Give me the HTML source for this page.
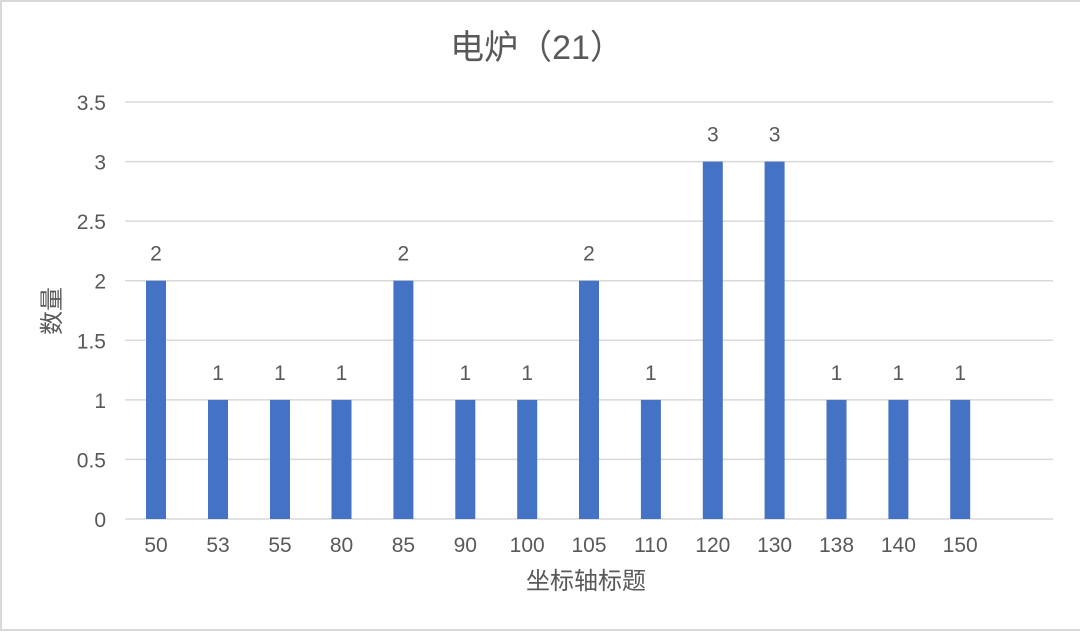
<!DOCTYPE html>
<html><head><meta charset="utf-8"><style>
html,body{margin:0;padding:0;background:#fff;}
svg{display:block;}
text{font-family:"Liberation Sans","Noto Sans CJK SC",sans-serif;fill:#595959;}
</style></head><body>
<svg width="1080" height="633" viewBox="0 0 1080 633" xmlns="http://www.w3.org/2000/svg">
<rect x="0" y="0" width="1080" height="633" fill="#fff"/>
<rect x="1" y="1" width="1090" height="629" fill="none" stroke="#d9d9d9" stroke-width="2"/>
<text x="537" y="59" font-size="34" text-anchor="middle">电炉（21）</text>
<g stroke="#d9d9d9" stroke-width="1.5">
<line x1="125" x2="1053" y1="102" y2="102"/>
<line x1="125" x2="1053" y1="161.6" y2="161.6"/>
<line x1="125" x2="1053" y1="221.1" y2="221.1"/>
<line x1="125" x2="1053" y1="280.7" y2="280.7"/>
<line x1="125" x2="1053" y1="340.3" y2="340.3"/>
<line x1="125" x2="1053" y1="399.9" y2="399.9"/>
<line x1="125" x2="1053" y1="459.4" y2="459.4"/>
<line x1="125" x2="1053" y1="519" y2="519"/>
</g>
<g font-size="21" text-anchor="end">
<text x="106" y="110">3.5</text>
<text x="106" y="169.6">3</text>
<text x="106" y="229.1">2.5</text>
<text x="106" y="288.7">2</text>
<text x="106" y="348.3">1.5</text>
<text x="106" y="407.9">1</text>
<text x="106" y="467.4">0.5</text>
<text x="106" y="527">0</text>
</g>
<g fill="#4472c4">
<rect x="146" y="280.7" width="20" height="238.3"/>
<rect x="208" y="399.9" width="20" height="119.1"/>
<rect x="270" y="399.9" width="20" height="119.1"/>
<rect x="331.5" y="399.9" width="20" height="119.1"/>
<rect x="393.4" y="280.7" width="20" height="238.3"/>
<rect x="455.3" y="399.9" width="20" height="119.1"/>
<rect x="517.2" y="399.9" width="20" height="119.1"/>
<rect x="579" y="280.7" width="20" height="238.3"/>
<rect x="640.9" y="399.9" width="20" height="119.1"/>
<rect x="702.8" y="161.6" width="20" height="357.4"/>
<rect x="764.6" y="161.6" width="20" height="357.4"/>
<rect x="826.5" y="399.9" width="20" height="119.1"/>
<rect x="888.4" y="399.9" width="20" height="119.1"/>
<rect x="950.2" y="399.9" width="20" height="119.1"/>
</g>
<g font-size="21" text-anchor="middle">
<text x="156" y="260.7">2</text>
<text x="218" y="379.9">1</text>
<text x="280" y="379.9">1</text>
<text x="341.5" y="379.9">1</text>
<text x="403.4" y="260.7">2</text>
<text x="465.3" y="379.9">1</text>
<text x="527.2" y="379.9">1</text>
<text x="589" y="260.7">2</text>
<text x="650.9" y="379.9">1</text>
<text x="712.8" y="141.6">3</text>
<text x="774.6" y="141.6">3</text>
<text x="836.5" y="379.9">1</text>
<text x="898.4" y="379.9">1</text>
<text x="960.2" y="379.9">1</text>
</g>
<g font-size="21" text-anchor="middle">
<text x="156" y="552">50</text>
<text x="218" y="552">53</text>
<text x="280" y="552">55</text>
<text x="341.5" y="552">80</text>
<text x="403.4" y="552">85</text>
<text x="465.3" y="552">90</text>
<text x="527.2" y="552">100</text>
<text x="589" y="552">105</text>
<text x="650.9" y="552">110</text>
<text x="712.8" y="552">120</text>
<text x="774.6" y="552">130</text>
<text x="836.5" y="552">138</text>
<text x="898.4" y="552">140</text>
<text x="960.2" y="552">150</text>
</g>
<text x="586" y="589" font-size="24" text-anchor="middle">坐标轴标题</text>
<text transform="translate(60,311) rotate(-90)" font-size="24" text-anchor="middle">数量</text>
</svg>
</body></html>
